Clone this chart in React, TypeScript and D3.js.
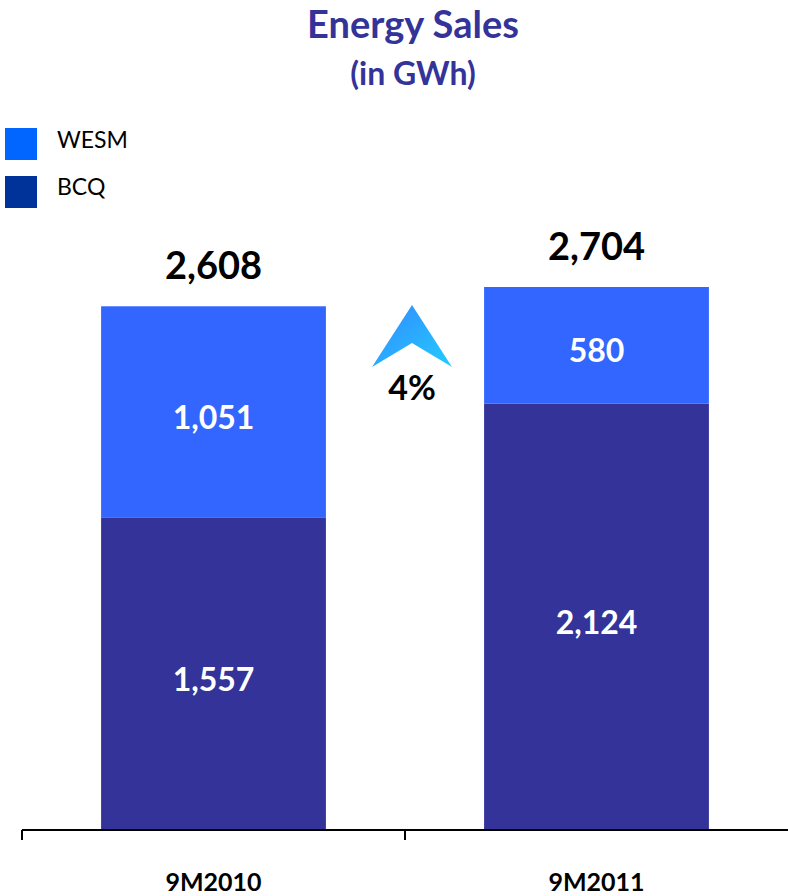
import React from "react";
import * as d3 from "d3";

const categories = ["9M2010", "9M2011"];
const bcq = [1557, 2124];
const wesm = [1051, 580];
const totalLabels = ["2,608", "2,704"];
const bcqLabels = ["1,557", "2,124"];
const wesmLabels = ["1,051", "580"];
const changeLabel = "4%";
const seriesNames = ["WESM", "BCQ"];

const W = 788;
const H = 896;
const FONT = "Lato, 'Open Sans', sans-serif";

export default function App() {
  const x = d3.scaleBand<string>().domain(categories).range([22, 788]).paddingInner(0).paddingOuter(0);
  const totals = bcq.map((v, i) => v + wesm[i]);
  const y = d3.scaleLinear().domain([0, d3.max(totals) as number]).range([830, 287]);
  const barW = x.bandwidth() * 0.587;

  const ax = (x(categories[1]) as number) + 7;
  const arrowPath = d3.line()([
    [ax, 305],
    [ax + 40, 367],
    [ax, 343],
    [ax - 40, 367],
  ]) + "Z";

  return (
    <svg width={W} height={H} style={{ position: "absolute", left: 0, top: 0 }} fontFamily={FONT}>
      <defs>
        <linearGradient id="arrowGrad" x1="0" y1="0" x2="1" y2="1">
          <stop offset="0" stopColor="#3388FF" />
          <stop offset="1" stopColor="#22CCFF" />
        </linearGradient>
      </defs>
      <text x={413} y={38} textAnchor="middle" fontSize={38} fontWeight="bold" fill="#333399">Energy Sales</text>
      <text x={413} y={85} textAnchor="middle" fontSize={32} fontWeight="bold" fill="#333399">(in GWh)</text>

      {seriesNames.map((s, i) => (
        <g key={s}>
          <rect x={5} y={128 + i * 48} width={32} height={32} fill={i === 0 ? "#0066FF" : "#003399"} />
          <text x={57} y={140 + i * 47} dy="0.35em" fontSize={23} fill="#000">{s}</text>
        </g>
      ))}

      {categories.map((c, i) => {
        const cx = (x(c) as number) + x.bandwidth() / 2;
        const x0 = cx - barW / 2;
        const yB = y(bcq[i]);
        const yT = y(totals[i]);
        return (
          <g key={c}>
            <rect x={x0} y={yB} width={barW} height={y(0) - yB} fill="#333399" />
            <rect x={x0} y={yT} width={barW} height={yB - yT} fill="#3366FF" />
            <text x={cx} y={(yB + y(0)) / 2 + 6} dy="0.35em" textAnchor="middle" fontSize={32} fontWeight="bold" fill="#fff">{bcqLabels[i]}</text>
            <text x={cx} y={(yB + yT) / 2 + 6} dy="0.35em" textAnchor="middle" fontSize={32} fontWeight="bold" fill="#fff">{wesmLabels[i]}</text>
            <text x={cx} y={yT - 27} textAnchor="middle" fontSize={38} fontWeight="bold" fill="#000">{totalLabels[i]}</text>
            <text x={cx} y={882} dy="0.35em" textAnchor="middle" fontSize={25} fontWeight="bold" fill="#000">{c}</text>
          </g>
        );
      })}

      <path d={arrowPath} fill="url(#arrowGrad)" />
      <text x={ax} y={400} textAnchor="middle" fontSize={34} fontWeight="bold" fill="#000">{changeLabel}</text>

      <line x1={22} x2={788} y1={830} y2={830} stroke="#000" strokeWidth={2} />
      {categories.map((c) => x(c) as number).map((t, i) => (
        <line key={i} x1={t} x2={t} y1={830} y2={840} stroke="#000" strokeWidth={2} />
      ))}
    </svg>
  );
}
